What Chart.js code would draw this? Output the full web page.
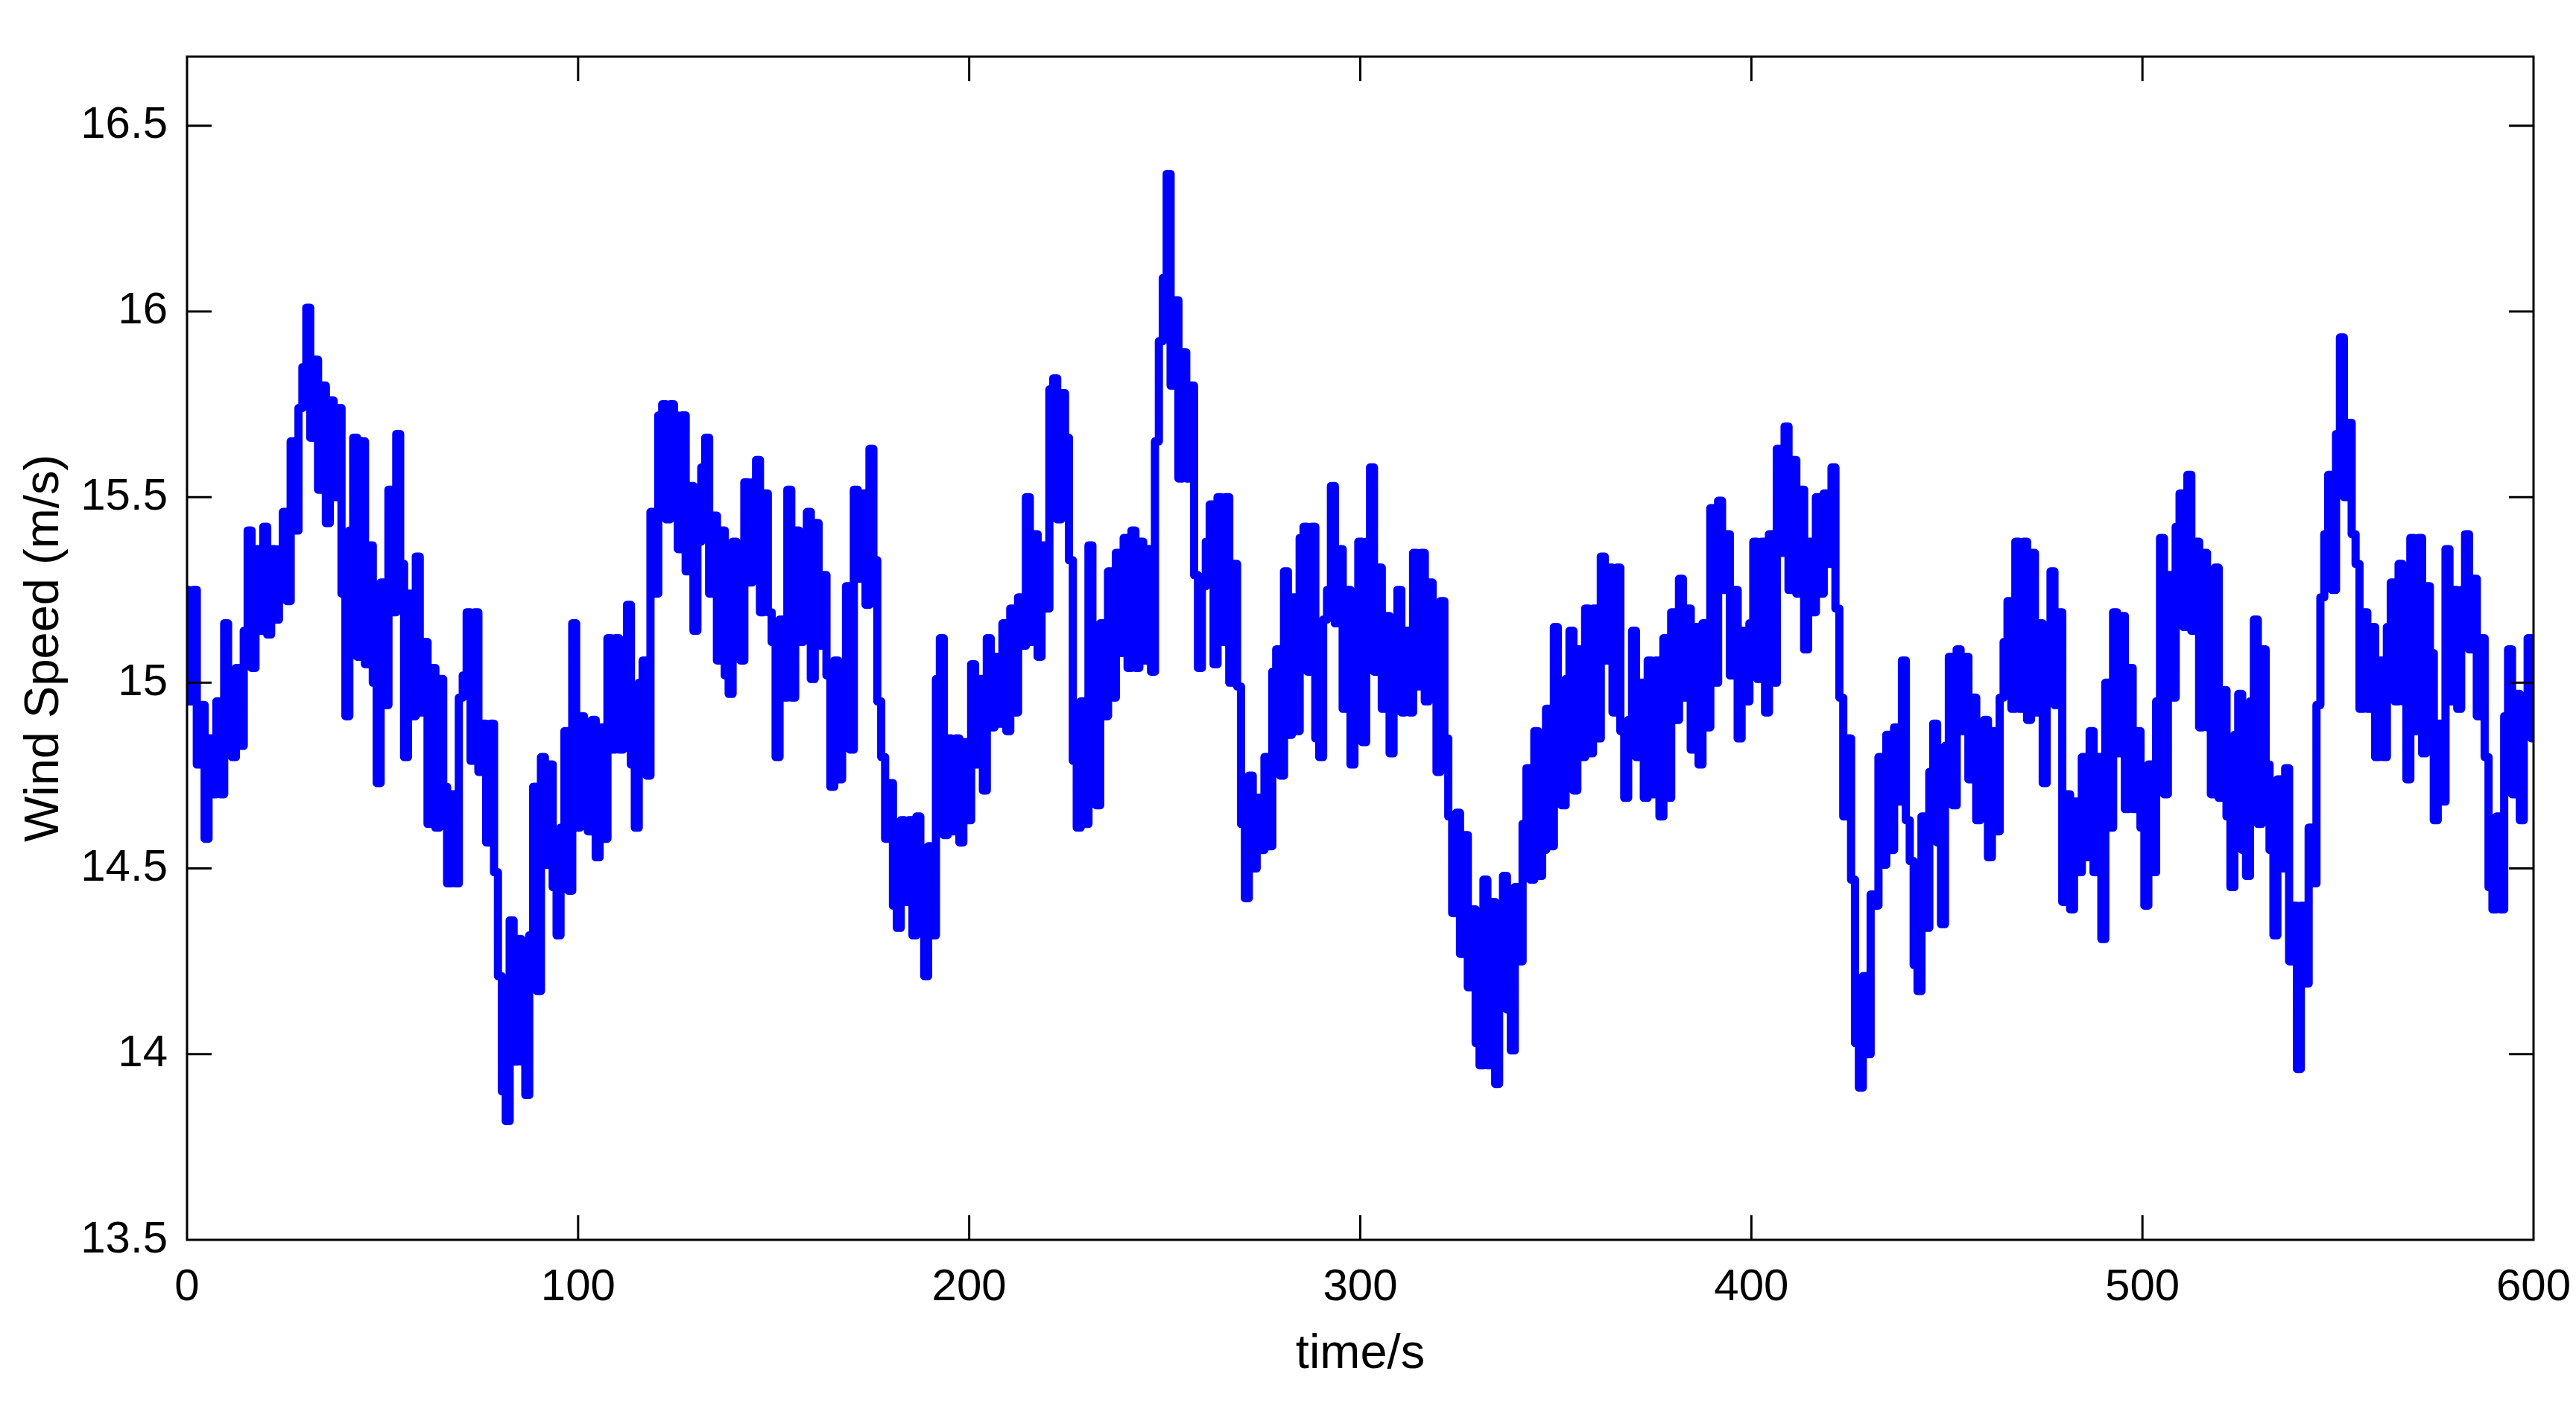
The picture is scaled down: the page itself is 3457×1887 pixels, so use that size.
<!DOCTYPE html>
<html>
<head>
<meta charset="utf-8">
<title>Wind Speed</title>
<script src="https://cdn.jsdelivr.net/npm/chart.js@4.4.1/dist/chart.umd.min.js"></script>
<style>
  html, body { margin: 0; padding: 0; background: #fff; }
  #wrap { width: 3457px; height: 1887px; position: relative; }
</style>
</head>
<body>
<div id="wrap"><canvas id="myChart"></canvas></div>
<script>
// wind speed, one value per second (m/s)
const speed000 = [
  15.25, 14.95, 15.25, 14.78, 14.94, 14.58, 14.85, 14.70, 14.95, 14.70,
  15.16, 14.95, 14.80, 15.04, 14.83, 15.14, 15.41, 15.04, 15.36, 15.14,
  15.42, 15.13, 15.36, 15.17, 15.36, 15.46, 15.22, 15.65, 15.41, 15.74,
  15.85, 16.01, 15.66, 15.87, 15.52, 15.80, 15.43, 15.76, 15.50, 15.74,
  15.24, 14.91, 15.41, 15.66, 15.07, 15.65, 15.05, 15.37, 15.00, 14.73,
  15.27, 14.94, 15.52, 15.19, 15.67, 15.32, 14.80, 15.24, 14.91, 15.34,
  14.92, 15.11, 14.62, 15.04, 14.61, 15.01, 14.72, 14.46, 14.70, 14.46,
  14.96, 15.02, 15.19, 14.79, 15.19, 14.76, 14.89, 14.57, 14.89, 14.49,
  14.21, 13.90, 13.82, 14.36, 13.98, 14.31, 13.98, 13.89, 14.32, 14.72,
  14.17, 14.80, 14.51, 14.78, 14.45, 14.32, 14.61, 14.87, 14.44, 15.16
];
const speed100 = [
  14.61, 14.91, 14.75, 14.60, 14.90, 14.53, 14.88, 14.58, 15.12, 14.82,
  15.12, 14.82, 15.06, 15.21, 14.78, 14.61, 15.00, 15.06, 14.75, 15.46,
  15.24, 15.72, 15.75, 15.44, 15.75, 15.72, 15.36, 15.72, 15.30, 15.53,
  15.14, 15.38, 15.58, 15.66, 15.24, 15.45, 15.06, 15.41, 15.02, 14.97,
  15.38, 15.15, 15.06, 15.54, 15.27, 15.54, 15.60, 15.19, 15.51, 15.19,
  15.11, 14.80, 15.17, 14.96, 15.52, 14.96, 15.41, 15.11, 15.30, 15.46,
  15.01, 15.43, 15.10, 15.29, 15.02, 14.72, 15.06, 14.74, 14.98, 15.26,
  14.82, 15.52, 15.28, 15.51, 15.21, 15.63, 15.33, 14.95, 14.80, 14.58,
  14.73, 14.40, 14.34, 14.63, 14.41, 14.63, 14.32, 14.64, 14.33, 14.21,
  14.56, 14.32, 15.01, 15.12, 14.59, 14.85, 14.60, 14.85, 14.57, 14.84
];
const speed200 = [
  14.63, 15.05, 14.78, 15.01, 14.71, 15.12, 14.88, 15.07, 14.89, 15.16,
  14.87, 15.20, 14.92, 15.23, 15.10, 15.50, 15.11, 15.40, 15.07, 15.37,
  15.20, 15.79, 15.82, 15.44, 15.78, 15.66, 15.33, 14.79, 14.61, 14.95,
  14.62, 15.37, 14.78, 14.67, 15.16, 14.91, 15.30, 14.96, 15.35, 15.08,
  15.39, 15.04, 15.41, 15.04, 15.38, 15.06, 15.36, 15.03, 15.65, 15.92,
  16.09, 16.37, 15.80, 16.03, 15.55, 15.89, 15.55, 15.80, 15.29, 15.04,
  15.26, 15.38, 15.48, 15.05, 15.50, 15.11, 15.50, 15.00, 15.32, 14.99,
  14.62, 14.42, 14.75, 14.50, 14.69, 14.55, 14.80, 14.56, 15.03, 15.09,
  14.75, 15.30, 14.86, 15.23, 14.87, 15.39, 15.42, 15.03, 15.42, 14.85,
  14.80, 15.17, 15.25, 15.53, 15.16, 15.36, 14.93, 15.25, 14.78, 15.00
];
const speed300 = [
  15.38, 14.84, 15.38, 15.58, 15.03, 15.31, 14.93, 15.18, 14.81, 14.95,
  15.25, 14.92, 15.14, 14.92, 15.35, 14.99, 15.35, 14.95, 15.27, 15.12,
  14.76, 15.22, 14.85, 14.64, 14.38, 14.65, 14.27, 14.59, 14.18, 14.39,
  14.03, 13.97, 14.47, 13.97, 14.41, 13.92, 14.30, 14.48, 14.12, 14.01,
  14.45, 14.25, 14.62, 14.77, 14.47, 14.87, 14.48, 14.55, 14.93, 14.56,
  15.15, 14.74, 14.67, 15.01, 15.14, 14.71, 15.09, 14.80, 15.20, 14.81,
  15.20, 14.85, 15.34, 15.06, 15.31, 14.92, 15.31, 14.87, 14.69, 14.90,
  15.14, 14.80, 15.00, 14.69, 15.06, 14.70, 15.06, 14.64, 15.12, 14.69,
  15.19, 14.90, 15.28, 14.96, 15.20, 14.82, 15.15, 14.78, 15.16, 14.88,
  15.47, 15.00, 15.49, 15.25, 15.40, 15.02, 15.25, 14.85, 15.14, 14.95
];
const speed400 = [
  15.16, 15.38, 15.01, 15.38, 14.92, 15.40, 15.00, 15.63, 15.35, 15.69,
  15.25, 15.60, 15.24, 15.52, 15.09, 15.38, 15.19, 15.50, 15.24, 15.51,
  15.32, 15.58, 15.20, 14.96, 14.64, 14.85, 14.47, 14.03, 13.91, 14.21,
  14.00, 14.43, 14.40, 14.80, 14.51, 14.86, 14.55, 14.88, 14.68, 15.06,
  14.63, 14.52, 14.24, 14.17, 14.64, 14.34, 14.76, 14.89, 14.57, 14.35,
  14.83, 15.07, 14.67, 15.09, 14.87, 15.07, 14.74, 14.96, 14.63, 14.85,
  14.90, 14.53, 14.87, 14.60, 14.96, 15.11, 15.22, 14.93, 15.38, 14.93,
  15.38, 14.90, 15.35, 14.92, 15.16, 14.73, 14.95, 15.30, 14.94, 15.19,
  14.41, 14.70, 14.39, 14.68, 14.49, 14.80, 14.53, 14.87, 14.49, 14.80,
  14.31, 15.00, 14.61, 15.19, 14.81, 15.18, 14.66, 15.04, 14.66, 14.87
];
const speed500 = [
  14.61, 14.40, 14.78, 14.49, 14.95, 15.39, 14.70, 15.29, 14.96, 15.42,
  15.51, 15.15, 15.56, 15.14, 15.38, 14.88, 15.35, 14.88, 14.70, 15.31,
  14.69, 14.98, 14.64, 14.45, 14.86, 14.97, 14.55, 14.48, 14.95, 15.17,
  14.62, 15.09, 14.78, 14.55, 14.32, 14.74, 14.50, 14.77, 14.25, 14.40,
  13.96, 14.40, 14.19, 14.61, 14.46, 14.94, 15.23, 15.40, 15.56, 15.25,
  15.67, 15.93, 15.50, 15.70, 15.40, 15.32, 14.93, 15.19, 14.93, 15.15,
  14.80, 15.06, 14.80, 15.15, 15.27, 14.95, 15.32, 14.95, 14.74, 15.39,
  14.87, 15.39, 14.81, 15.26, 15.08, 14.63, 14.89, 14.68, 15.36, 14.95,
  15.25, 14.93, 15.25, 15.40, 15.09, 15.28, 14.91, 15.12, 14.80, 14.45,
  14.39, 14.64, 14.39, 14.91, 15.09, 14.70, 14.97, 14.63, 14.94, 15.12,
  14.85
];

const sampleStep = 1; // seconds between samples
const xTicks = [0, 100, 200, 300, 400, 500, 600];
const yTicks = [13.5, 14, 14.5, 15, 15.5, 16, 16.5];
const yMin = 13.5;
const yMax = 16.686;

const speeds = [].concat(speed000, speed100, speed200, speed300, speed400, speed500);
const points = speeds.map((v, i) => ({ x: i * sampleStep, y: v }));

const fontFamily = "'Liberation Sans', Arial, Helvetica, sans-serif";

// box round the plot with inward ticks on all four sides (matlab look)
const boxPlugin = {
  id: 'boxPlugin',
  afterDatasetsDraw(chart) {
    const ctx = chart.ctx;
    const a = chart.chartArea;
    const xs = chart.scales.x;
    const ys = chart.scales.y;
    const len = 33;
    ctx.save();
    ctx.strokeStyle = '#000';
    ctx.lineWidth = 3;
    ctx.beginPath();
    xTicks.forEach(t => {
      const px = xs.getPixelForValue(t);
      if (px <= a.left + 1 || px >= a.right - 1) return;
      ctx.moveTo(px, a.bottom); ctx.lineTo(px, a.bottom - len);
      ctx.moveTo(px, a.top); ctx.lineTo(px, a.top + len);
    });
    yTicks.forEach(t => {
      const py = ys.getPixelForValue(t);
      if (py <= a.top + 1 || py >= a.bottom - 1) return;
      ctx.moveTo(a.left, py); ctx.lineTo(a.left + len, py);
      ctx.moveTo(a.right, py); ctx.lineTo(a.right - len, py);
    });
    ctx.stroke();
    ctx.strokeRect(a.left, a.top, a.right - a.left, a.bottom - a.top);
    ctx.restore();
  }
};

const ctx = document.getElementById('myChart').getContext('2d');
const chart = new Chart(ctx, {
  type: 'line',
  data: {
    datasets: [{
      label: 'Wind Speed',
      data: points,
      borderColor: '#0000ff',
      backgroundColor: '#0000ff',
      borderWidth: 11,
      borderCapStyle: 'round',
      borderJoinStyle: 'round',
      stepped: 'middle',
      pointRadius: 0,
      fill: false
    }]
  },
  options: {
    responsive: true,
    maintainAspectRatio: false,
    devicePixelRatio: 1,
    animation: false,
    layout: { padding: { top: 76, right: 57, left: 0, bottom: 0 } },
    plugins: {
      legend: { display: false },
      tooltip: { enabled: false }
    },
    scales: {
      x: {
        type: 'linear',
        min: 0,
        max: 600,
        grid: { display: false, drawTicks: false },
        border: { display: false },
        afterBuildTicks: scale => { scale.ticks = xTicks.map(v => ({ value: v })); },
        afterFit: scale => { scale.height = 223; scale.paddingLeft = 0; scale.paddingRight = 0; },
        ticks: {
          padding: 28,
          color: '#000',
          font: { family: fontFamily, size: 60 },
          maxRotation: 0,
          autoSkip: false,
          callback: v => String(v)
        },
        title: {
          display: true,
          text: 'time/s',
          color: '#000',
          font: { family: fontFamily, size: 65 },
          padding: { top: 0, bottom: 30 }
        }
      },
      y: {
        type: 'linear',
        min: yMin,
        max: yMax,
        grid: { display: false, drawTicks: false },
        border: { display: false },
        afterBuildTicks: scale => { scale.ticks = yTicks.map(v => ({ value: v })); },
        afterFit: scale => { scale.width = 251; scale.paddingTop = 0; scale.paddingBottom = 0; },
        ticks: {
          padding: 26,
          color: '#000',
          font: { family: fontFamily, size: 60 },
          autoSkip: false,
          callback: v => String(v)
        },
        title: {
          display: true,
          text: 'Wind Speed (m/s)',
          color: '#000',
          font: { family: fontFamily, size: 65 },
          padding: { top: 21, bottom: 0 }
        }
      }
    }
  },
  plugins: [boxPlugin]
});
</script>
</body>
</html>
